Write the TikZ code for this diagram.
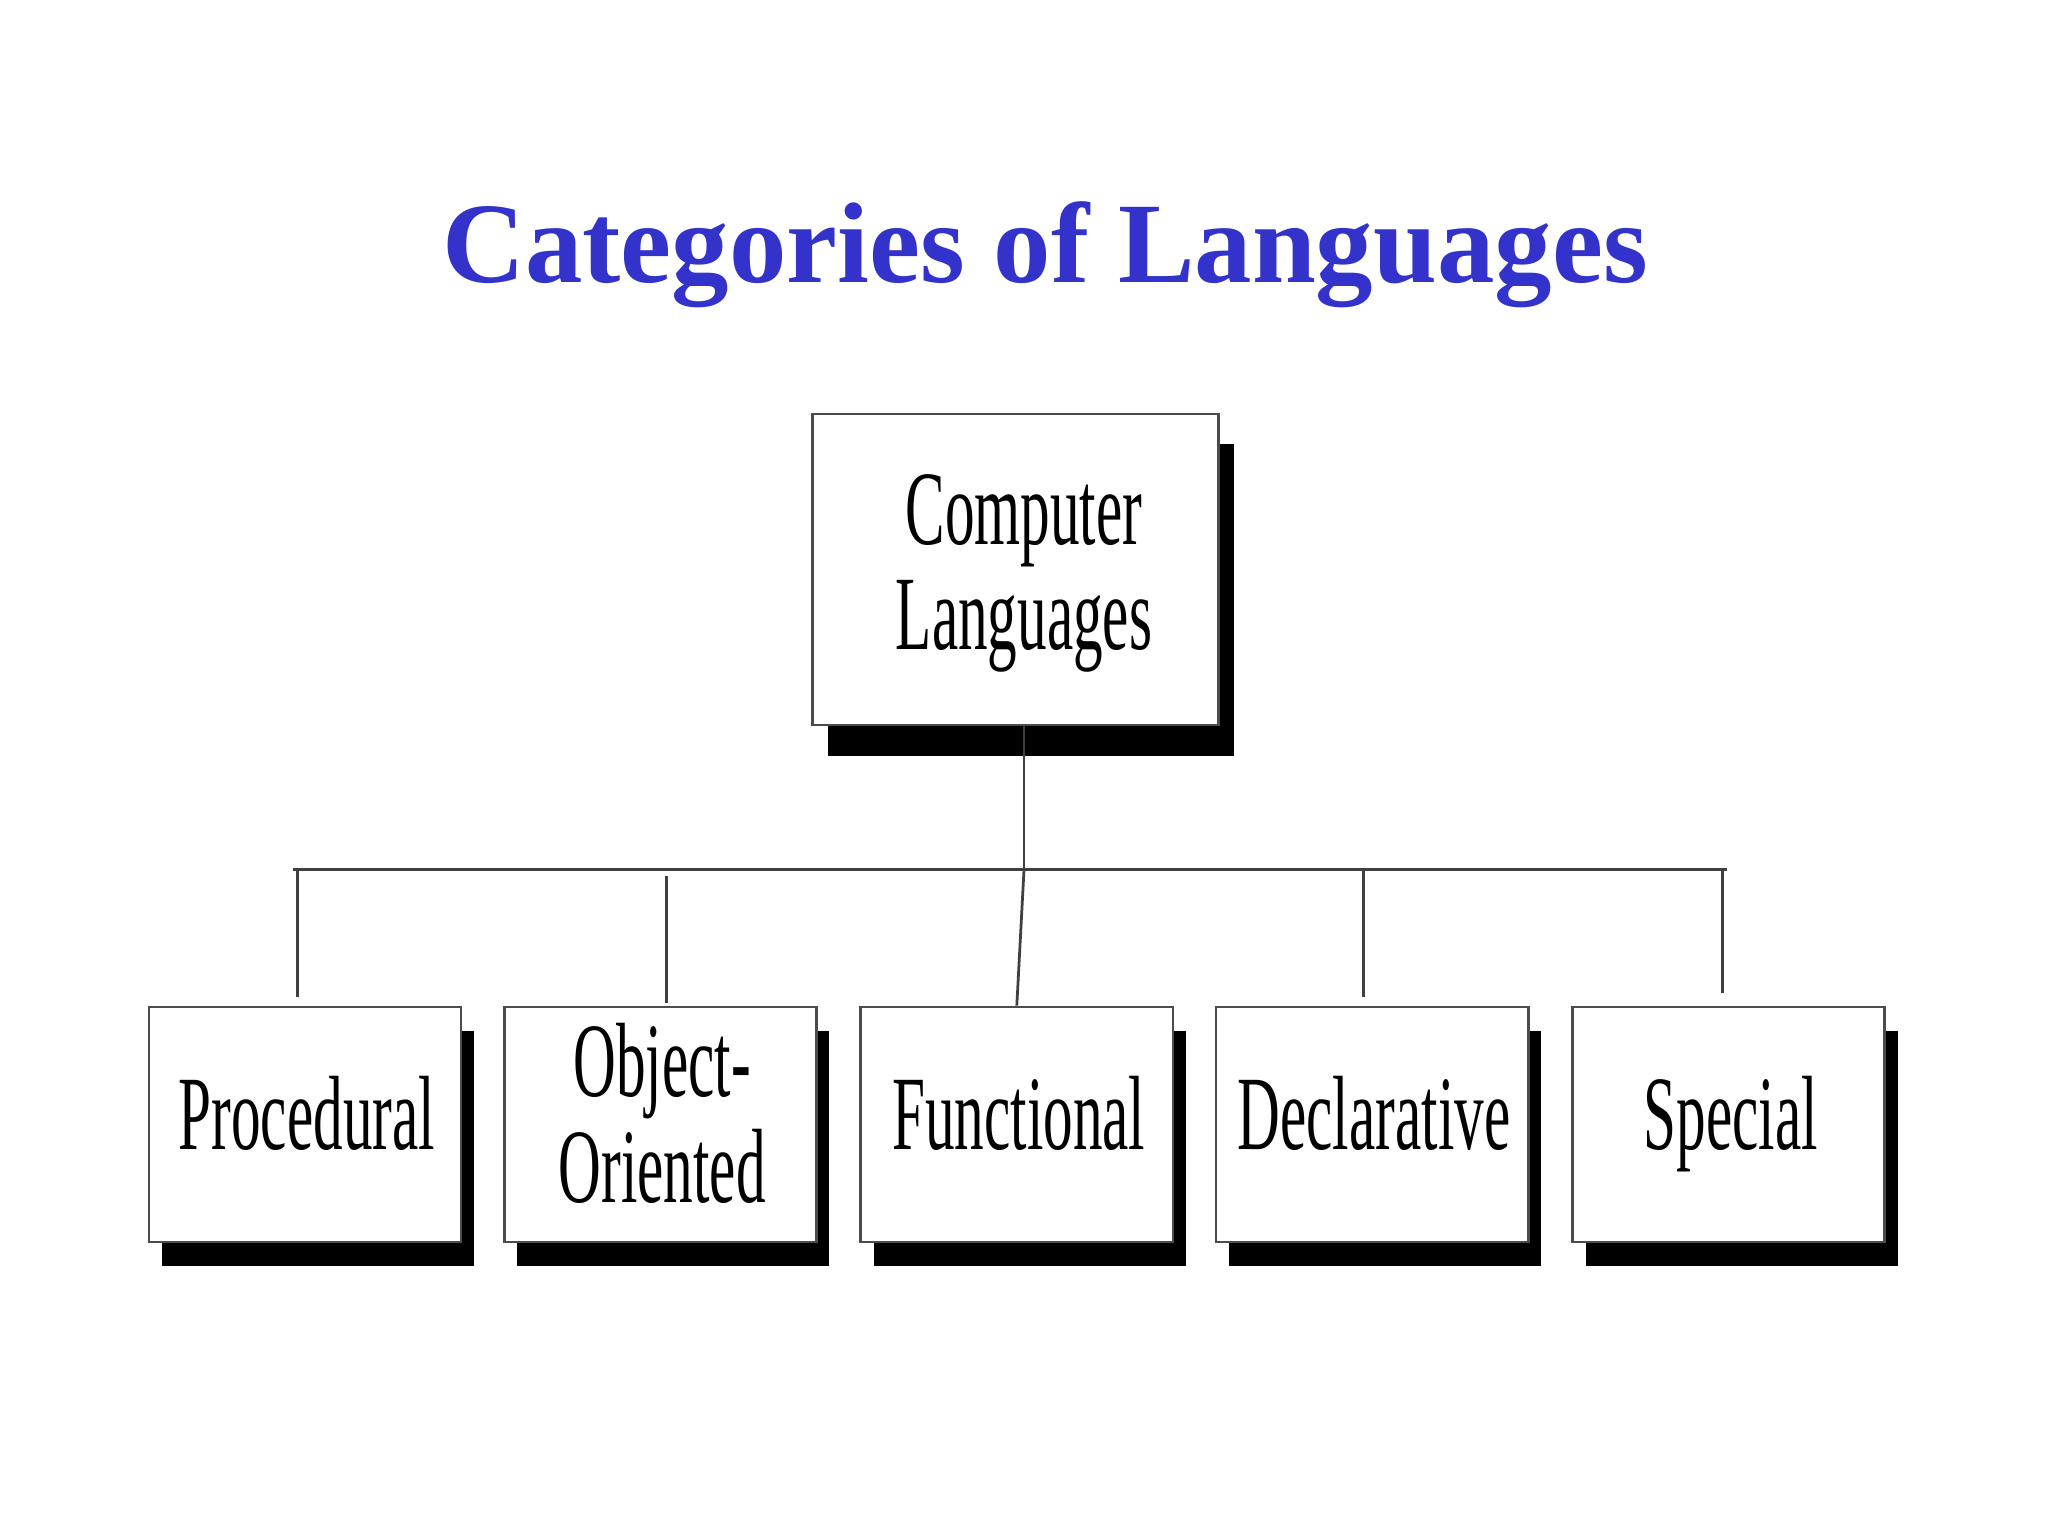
\documentclass[tikz,border=0pt]{standalone}
\usepackage{fontspec}
\setmainfont{Liberation Serif}
\definecolor{titleblue}{RGB}{51,51,204}
\newcommand{\narrowtext}[1]{\scalebox{0.56}[1]{\fontsize{23}{27}\selectfont\begin{tabular}{c}#1\end{tabular}}}
\tikzset{
  catbox/.style={draw=black!70, fill=white, line width=0.6pt, inner sep=0pt},
  shadow/.style={fill=black},
  tree/.style={draw=black!75, line width=0.6pt}
}
\begin{document}
\begin{tikzpicture}[x=0.01cm, y=-0.01cm]
  \useasboundingbox (0,0) rectangle (1568,1176);
  \fill[white] (0,0) rectangle (1568,1176);
  % title
  \node[text=titleblue, font=\fontsize{25}{30}\selectfont\bfseries] (title) at (800,195) {Categories of Languages};
  % top box
  \fill[shadow] (634,340) rectangle (945,579);
  \node[catbox, minimum width=311*0.01cm, minimum height=238*0.01cm] (root) at (777.5,436) {};
  \node (roottext) at (784,438) {\narrowtext{Computer\\[-4pt]Languages}};
  % bus line
  \coordinate (busl) at (224,666);
  \coordinate (busr) at (1322,666);
  \coordinate (busm) at (784,666);
  \draw[tree] (busl) -- (busr);
  \draw[tree] (784,555) -- (busm);
  % bottom boxes
  \foreach \name/\x/\txt/\top in {proc/114/Procedural/763, obj/386/{Object-\\[-4pt]Oriented}/768,
      func/659/Functional/771, decl/931/Declarative/763, spec/1204/Special/760}{
    \fill[shadow] (\x+10,789) rectangle (\x+249,969);
    \node[catbox, minimum width=239*0.01cm, minimum height=180*0.01cm] (\name) at (\x+119.5,861) {};
    \node (\name text) at (\x+121,861) {\narrowtext{\txt}};
  }
  \draw[tree] (228,666) -- (228,763);
  \draw[tree] (510,671) -- (510,768);
  \draw[tree] (busm) -- (func.north);
  \draw[tree] (1044,666) -- (1044,763);
  \draw[tree] (1319,666) -- (1319,760);
\end{tikzpicture}
\end{document}
